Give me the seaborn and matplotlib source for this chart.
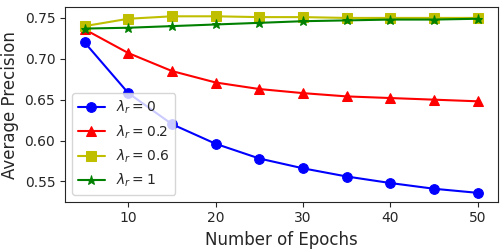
import numpy as np
import pandas as pd
import matplotlib
matplotlib.use('Agg')
import matplotlib.pyplot as plt
import seaborn as sns

# Values
epochs = [5, 10, 15, 20, 25, 30, 35, 40, 45, 50]
ap_lr0 = [0.720, 0.658, 0.620, 0.596, 0.578, 0.566, 0.556, 0.548, 0.541, 0.536]
ap_lr02 = [0.736, 0.707, 0.685, 0.671, 0.663, 0.658, 0.654, 0.652, 0.650, 0.648]
ap_lr06 = [0.740, 0.749, 0.752, 0.752, 0.751, 0.751, 0.750, 0.750, 0.750, 0.750]
ap_lr1 = [0.737, 0.738, 0.740, 0.742, 0.744, 0.746, 0.747, 0.748, 0.748, 0.749]

series = [
    (ap_lr0, r'$\lambda_r = 0$', 'b', 'o'),
    (ap_lr02, r'$\lambda_r = 0.2$', 'r', '^'),
    (ap_lr06, r'$\lambda_r = 0.6$', 'y', 's'),
    (ap_lr1, r'$\lambda_r = 1$', 'g', '*'),
]

sns.set_style('ticks')
plt.rcParams['font.family'] = ['DejaVu Sans']

fig, ax = plt.subplots(figsize=(5, 2.49), dpi=100)

for values, label, color, marker in series:
    df = pd.DataFrame({'Epochs': epochs, 'AP': values})
    sns.lineplot(data=df, x='Epochs', y='AP', ax=ax, color=color, marker=marker,
                 markersize=7 if marker != '*' else 6.5, markeredgecolor=color,
                 linewidth=1.5, label=label)

ax.set_xlabel('Number of Epochs', fontsize=12)
ax.set_ylabel('Average Precision', fontsize=12)
ax.set_xticks([10, 20, 30, 40, 50])
ax.set_yticks([0.55, 0.60, 0.65, 0.70, 0.75])
ax.tick_params(labelsize=10)
ax.legend(loc='lower left', fontsize=10)

plt.subplots_adjust(left=0.13, right=0.995, top=0.97, bottom=0.19)
plt.savefig('out.png', dpi=100)
plt.close()
